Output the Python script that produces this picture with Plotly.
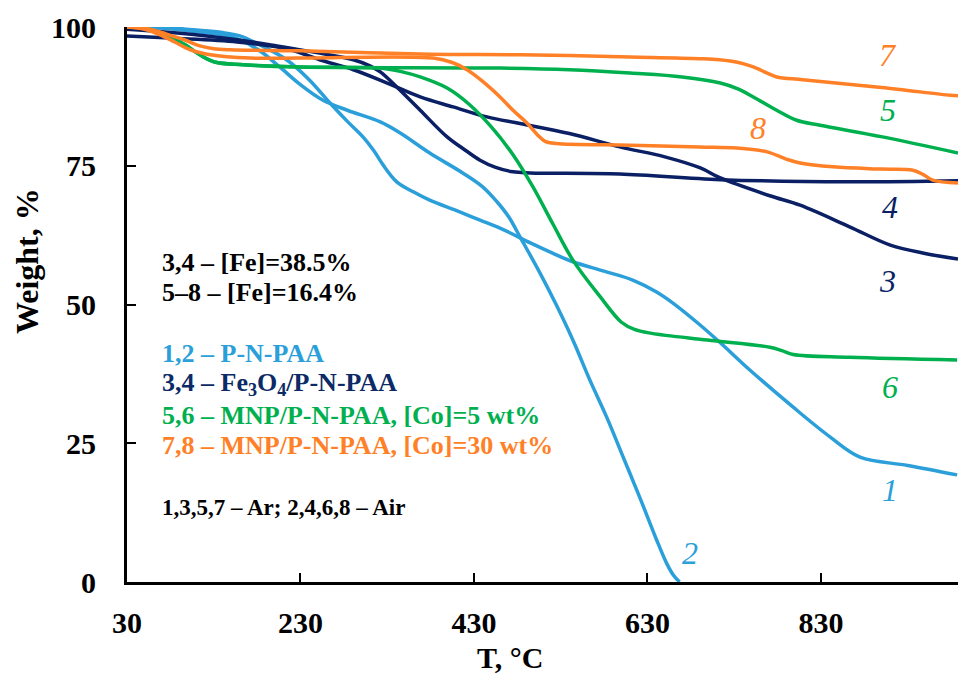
import plotly.graph_objects as go

# ---------------- data ----------------
t1 = [30, 68, 106, 140, 160, 183, 214, 240, 264, 284, 302, 315, 325, 341, 360, 379, 410, 437, 465, 495, 520, 544, 580, 613, 640, 659, 690, 714, 748, 798, 840, 875, 930, 987]
w1 = [100, 100, 99.5, 99.0, 98.4, 96.8, 94.1, 90.5, 86.3, 83.0, 80.2, 77.6, 75.2, 72.1, 70.3, 68.8, 66.9, 65.2, 63.4, 61.1, 59.3, 57.7, 56.0, 54.4, 52.3, 50.3, 46.4, 43.1, 38.2, 31.5, 26.2, 22.5, 21.0, 19.3]

t2 = [30, 68, 114, 140, 160, 185, 206, 230, 256, 284, 322, 345, 379, 417, 440, 456, 470, 483, 506, 525, 544, 563, 583, 602, 621, 640, 652, 660, 667]
w2 = [100, 99.8, 99.1, 98.6, 97.7, 95.5, 92.8, 89.6, 86.8, 85.0, 82.9, 80.9, 77.3, 73.7, 71.2, 68.6, 65.8, 62.2, 55.7, 49.9, 43.6, 36.6, 29.7, 22.5, 15.3, 7.8, 3.4, 1.2, 0.0]

t3 = [30, 80, 157, 218, 252, 291, 330, 368, 406, 445, 483, 540, 598, 650, 691, 714, 771, 806, 863, 910, 950, 988]
w3 = [98.4, 98.0, 97.3, 95.9, 94.1, 92.3, 89.9, 87.4, 85.6, 83.8, 82.6, 80.8, 78.4, 76.6, 74.6, 72.8, 69.6, 67.9, 64.0, 60.7, 59.2, 58.2]

t4 = [30, 88, 157, 203, 252, 291, 310, 322, 341, 368, 399, 420, 437, 455, 475, 495, 598, 714, 863, 988]
w4 = [99.6, 98.9, 97.7, 96.6, 95.3, 94.1, 93.0, 91.9, 89.2, 85.0, 80.2, 77.8, 76.0, 74.7, 73.9, 73.7, 73.5, 72.5, 72.1, 72.3]

t5 = [30, 50, 68, 85, 97, 114, 131, 164, 229, 460, 540, 610, 670, 714, 735, 752, 779, 802, 829, 901, 988]
w5 = [100, 99.8, 98.9, 97.8, 96.8, 95.0, 93.7, 93.2, 92.8, 92.6, 92.3, 91.7, 91.0, 89.9, 88.8, 87.4, 85.0, 83.2, 82.3, 80.2, 77.3]

t6 = [30, 50, 68, 85, 97, 114, 131, 164, 229, 322, 345, 368, 399, 425, 450, 475, 498, 521, 544, 575, 600, 615, 635, 699, 771, 785, 798, 863, 987]
w6 = [100, 99.8, 98.9, 97.8, 96.8, 95.0, 93.7, 93.2, 92.8, 92.6, 92.0, 91.0, 89.0, 86.0, 82.0, 77.0, 71.2, 64.5, 58.0, 51.5, 46.8, 45.5, 44.8, 43.6, 42.3, 41.7, 41.0, 40.5, 40.0]

t7 = [30, 50, 68, 82, 96, 114, 130, 149, 229, 379, 483, 610, 690, 713, 735, 752, 768, 779, 809, 900, 979, 988]
w7 = [100, 99.8, 99.1, 98.4, 97.7, 96.6, 96.1, 95.9, 95.7, 95.1, 95.0, 94.6, 94.3, 94.1, 93.6, 92.8, 91.7, 91.0, 90.5, 89.1, 87.7, 87.6]

t8 = [30, 50, 68, 85, 103, 126, 172, 229, 383, 405, 422, 440, 460, 475, 491, 503, 512, 525, 610, 690, 733, 768, 790, 806, 844, 900, 936, 948, 959, 988]
w8 = [100, 99.6, 98.6, 97.3, 95.9, 95.0, 94.4, 94.4, 94.4, 93.6, 92.3, 90.2, 87.4, 85.0, 82.7, 80.6, 79.4, 79.0, 78.7, 78.4, 78.2, 77.5, 76.2, 75.5, 74.8, 74.4, 74.2, 73.4, 72.4, 71.9]

x_ticks = [30, 230, 430, 630, 830]
y_ticks = [0, 25, 50, 75, 100]

LIGHT = "#2B9FD9"
NAVY = "#0A1F64"
GREEN = "#00B04F"
ORANGE = "#FF8026"

curves = [
    (t1, w1, LIGHT), (t2, w2, LIGHT),
    (t3, w3, NAVY), (t4, w4, NAVY),
    (t5, w5, GREEN), (t6, w6, GREEN),
    (t7, w7, ORANGE), (t8, w8, ORANGE),
]

fig = go.Figure()
for t, w, c in curves:
    fig.add_trace(go.Scatter(x=t, y=w, mode="lines",
                             line=dict(color=c, width=3.5, shape="spline", smoothing=1.0),
                             showlegend=False, hoverinfo="skip"))

FONT = "Liberation Serif"
L, R, T, B = 127, 958, 27, 582
W, H = 958, 678


def px(xp):
    return (xp - L) / (R - L)


def py(yp):
    return (B - yp) / (B - T)


ann = []
# curve number labels
num_labels = [("7", 888, 55, ORANGE), ("5", 888, 110, GREEN), ("8", 758, 128, ORANGE),
              ("4", 890, 207, NAVY), ("3", 887, 281, NAVY), ("6", 890, 387, GREEN),
              ("1", 890, 490, LIGHT), ("2", 690, 553, LIGHT)]
for s, xp, yp, c in num_labels:
    ann.append(dict(text="<i>" + s + "</i>", x=px(xp), y=py(yp), xref="paper", yref="paper",
                    xanchor="center", yanchor="middle", showarrow=False,
                    font=dict(family=FONT, size=32, color=c)))

# text block
block = [("3,4 – [Fe]=38.5%", 262, "#000000"),
         ("5–8 – [Fe]=16.4%", 292, "#000000"),
         ("1,2 – P-N-PAA", 353, LIGHT),
         ("3,4 – Fe<sub>3</sub>O<sub>4</sub>/P-N-PAA", 384, "#0B2A66"),
         ("5,6 – MNP/P-N-PAA, [Co]=5 wt%", 415, GREEN),
         ("7,8 – MNP/P-N-PAA, [Co]=30 wt%", 445, ORANGE)]
for s, yp, c in block:
    ann.append(dict(text="<b>" + s + "</b>", x=px(160), y=py(yp), xref="paper", yref="paper",
                    xanchor="left", yanchor="middle", showarrow=False,
                    font=dict(family=FONT, size=26, color=c)))
ann.append(dict(text="<b>1,3,5,7 – Ar; 2,4,6,8 – Air</b>", x=px(160), y=py(507), xref="paper", yref="paper",
                xanchor="left", yanchor="middle", showarrow=False,
                font=dict(family=FONT, size=23, color="#000000")))

# axis titles
ann.append(dict(text="<b>Weight, %</b>", x=px(27), y=py(261), xref="paper", yref="paper",
                xanchor="center", yanchor="middle", showarrow=False, textangle=-90,
                font=dict(family=FONT, size=32, color="#000000")))
ann.append(dict(text="<b>T, °C</b>", x=px(510), y=py(657), xref="paper", yref="paper",
                xanchor="center", yanchor="middle", showarrow=False,
                font=dict(family=FONT, size=30, color="#000000")))

fig.update_layout(
    width=W, height=H,
    margin=dict(l=L, r=W - R, t=T, b=H - B, pad=0),
    paper_bgcolor="white", plot_bgcolor="white",
    annotations=ann,
    xaxis=dict(range=[30, 988], tickvals=x_ticks, ticktext=[str(v) for v in x_ticks],
               showgrid=False, zeroline=False, showline=True, linecolor="black", linewidth=3,
               ticks="inside", ticklen=9, tickwidth=2, tickcolor="black",
               tickfont=dict(family=FONT, size=30, color="black", weight="bold"),
               ticklabelstandoff=12),
    yaxis=dict(range=[0, 100], tickvals=y_ticks, ticktext=[str(v) for v in y_ticks],
               showgrid=False, zeroline=False, showline=True, linecolor="black", linewidth=3,
               ticks="inside", ticklen=9, tickwidth=2, tickcolor="black",
               tickfont=dict(family=FONT, size=30, color="black", weight="bold"),
               ticklabelstandoff=22),
)

fig.write_html("out.html")
